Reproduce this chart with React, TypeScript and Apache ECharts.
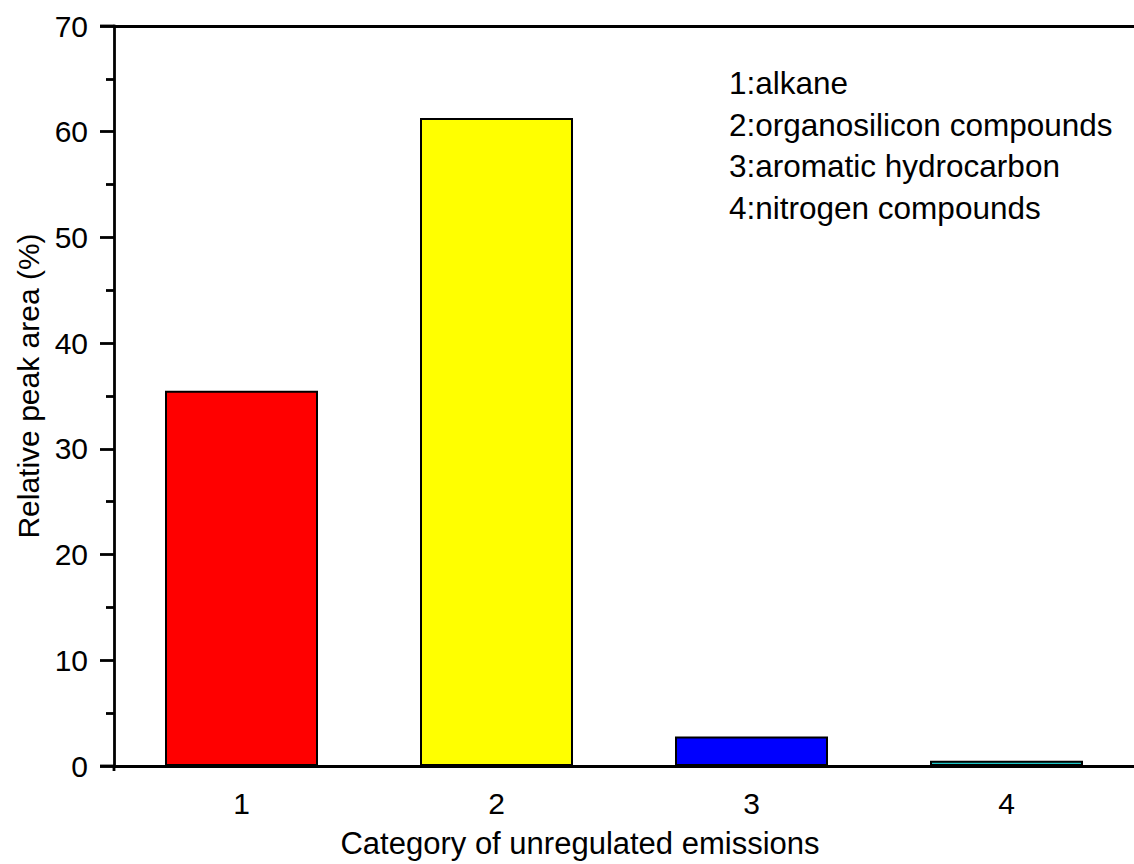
import React, { useEffect, useRef } from "react";
import * as echarts from "echarts";

// Categories of unregulated emissions and their relative peak areas (%)
const categories = ["1", "2", "3", "4"];
const categoryNames = [
  "1:alkane",
  "2:organosilicon compounds",
  "3:aromatic hydrocarbon",
  "4:nitrogen compounds",
];
const relativePeakArea = [35.5, 61.3, 2.8, 0.5];
const barColors = ["#FF0000", "#FFFF00", "#0000FF", "#1EC8C8"];

const FONT = "'Liberation Sans', Arial, Helvetica, sans-serif";

// plot frame geometry
const GRID_LEFT = 114;
const GRID_TOP = 26;
const GRID_WIDTH = 1028;
const GRID_HEIGHT = 740;
const AXIS_W = 2.8;

export default function App() {
  const ref = useRef<HTMLDivElement | null>(null);

  useEffect(() => {
    if (!ref.current) return;
    const chart = echarts.init(ref.current, undefined, { renderer: "svg" });
    const bottomY = GRID_TOP + GRID_HEIGHT;

    const legendTexts = categoryNames.map((t, i) => ({
      type: "text",
      x: 729,
      y: 83 + i * 41.5,
      style: {
        text: t,
        font: `31.5px ${FONT}`,
        fill: "#000",
        align: "left",
        verticalAlign: "middle",
      },
    }));

    chart.setOption({
      animation: false,
      backgroundColor: "#fff",
      grid: {
        left: GRID_LEFT,
        top: GRID_TOP,
        width: GRID_WIDTH,
        height: GRID_HEIGHT,
        containLabel: false,
      },
      xAxis: [
        {
          type: "category",
          data: categories,
          position: "bottom",
          axisLine: { lineStyle: { color: "#000", width: AXIS_W } },
          axisTick: {
            alignWithLabel: true,
            length: 14,
            lineStyle: { color: "#000", width: AXIS_W },
          },
          axisLabel: {
            color: "#000",
            fontSize: 30,
            fontFamily: FONT,
            margin: 22,
          },
          splitLine: { show: false },
        },
        {
          type: "category",
          data: categories,
          position: "top",
          axisLine: { lineStyle: { color: "#000", width: AXIS_W } },
          axisTick: { show: false },
          axisLabel: { show: false },
          splitLine: { show: false },
        },
      ],
      yAxis: {
        type: "value",
        min: 0,
        max: 70,
        interval: 10,
        axisLine: { show: true, lineStyle: { color: "#000", width: AXIS_W } },
        axisTick: {
          show: true,
          length: 14,
          lineStyle: { color: "#000", width: AXIS_W },
        },
        minorTick: {
          show: true,
          splitNumber: 2,
          length: 8,
          lineStyle: { color: "#000", width: AXIS_W },
        },
        axisLabel: {
          color: "#000",
          fontSize: 30,
          fontFamily: FONT,
          margin: 26,
        },
        splitLine: { show: false },
      },
      series: [
        {
          type: "bar",
          xAxisIndex: 0,
          barWidth: "60%",
          data: relativePeakArea.map((v, i) => ({
            value: v,
            itemStyle: {
              color: barColors[i],
              borderColor: "#000",
              borderWidth: 2,
            },
          })),
        },
      ],
      graphic: [
        // short overhangs of the frame lines to the left of the y axis
        {
          type: "line",
          shape: { x1: GRID_LEFT - 14, y1: bottomY, x2: GRID_LEFT, y2: bottomY },
          style: { stroke: "#000", lineWidth: AXIS_W },
        },
        {
          type: "line",
          shape: { x1: GRID_LEFT - 14, y1: GRID_TOP, x2: GRID_LEFT, y2: GRID_TOP },
          style: { stroke: "#000", lineWidth: AXIS_W },
        },
        {
          type: "line",
          shape: { x1: GRID_LEFT, y1: bottomY, x2: GRID_LEFT, y2: bottomY + 5 },
          style: { stroke: "#000", lineWidth: AXIS_W },
        },
        // axis titles
        {
          type: "text",
          x: 580,
          y: 843,
          style: {
            text: "Category of unregulated emissions",
            font: `31px ${FONT}`,
            fill: "#000",
            align: "center",
            verticalAlign: "middle",
          },
        },
        {
          type: "text",
          x: 28,
          y: 386,
          rotation: Math.PI / 2,
          style: {
            text: "Relative peak area (%)",
            font: `30px ${FONT}`,
            fill: "#000",
            align: "center",
            verticalAlign: "middle",
          },
        },
        ...legendTexts,
      ],
    });

    return () => chart.dispose();
  }, []);

  return (
    <div
      ref={ref}
      style={{ position: "fixed", left: 0, top: 0, width: 1134, height: 864 }}
    />
  );
}
